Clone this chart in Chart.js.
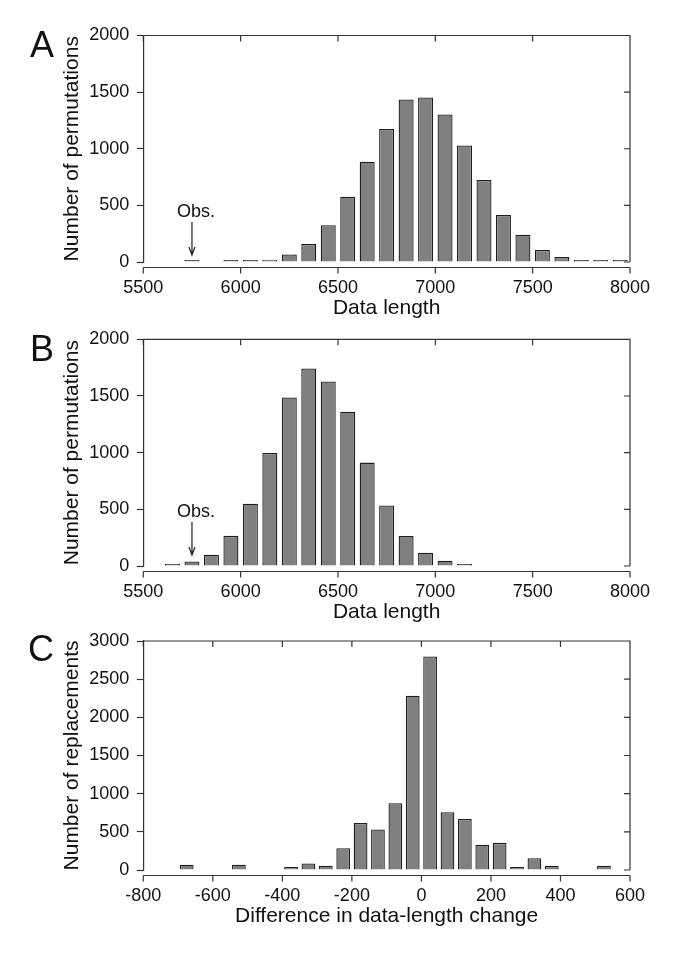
<!DOCTYPE html>
<html lang="en">
<head>
<meta charset="UTF-8">
<title>Permutation histograms</title>
<script src="https://cdn.jsdelivr.net/npm/chart.js"></script>
<style>
  body { margin: 0; background: #fff; font-family: "Liberation Sans", Arial, sans-serif; }
  #page { position: relative; width: 685px; height: 966px; overflow: hidden; }
  canvas { position: absolute; left: 0; }
  .letter { position: absolute; font-size: 36px; line-height: 36px; color: #111; }
</style>
</head>
<body>
<div id="page">
  <canvas id="chartA" width="685" height="330" style="top:0px"></canvas>
  <canvas id="chartB" width="685" height="330" style="top:304px"></canvas>
  <canvas id="chartC" width="685" height="330" style="top:608px"></canvas>
  <div class="letter" style="left:30px; top:27px">A</div>
  <div class="letter" style="left:30px; top:331px">B</div>
  <div class="letter" style="left:28px; top:631px">C</div>
</div>
<script>
// Panel A - bin centres and counts
const binsA = [5750, 5950, 6050, 6150, 6250, 6350, 6450, 6550, 6650, 6750, 6850,
               6950, 7050, 7150, 7250, 7350, 7450, 7550, 7650, 7750, 7850, 7950];
const countsA = [5, 5, 14, 20, 66, 160, 324, 577, 885, 1174, 1435,
                 1453, 1303, 1029, 724, 415, 241, 106, 44, 18, 9, 3];

// Panel B
const binsB = [5650, 5750, 5850, 5950, 6050, 6150, 6250, 6350, 6450, 6550, 6650,
               6750, 6850, 6950, 7050, 7150];
const countsB = [10, 40, 100, 266, 549, 997, 1487, 1742, 1628, 1361, 912,
                 534, 264, 117, 47, 12];

// Panel C
const binsC = [-675, -525, -375, -325, -275, -225, -175, -125, -75, -25,
               25, 75, 125, 175, 225, 275, 325, 375, 525];
const countsC = [70, 70, 40, 85, 55, 286, 616, 532, 875, 2283,
                 2798, 757, 669, 330, 356, 40, 154, 55, 55];

// axis ranges: [min, max, step]
const xRangeAB = [5500, 8000, 500];
const xRangeC = [-800, 600, 200];
const yRangeAB = [0, 2000, 500];
const yRangeC = [0, 3000, 500];

const ink = '#111';
const axisColor = '#333';
const tickFont = { family: 'Liberation Sans', size: 18 };
const titleFont = { family: 'Liberation Sans', size: 21 };

// box frame: top/right edges with inward ticks, bottom axis set a bit below zero
const framePlugin = {
  id: 'frame',
  afterDatasetsDraw(chart, args, opts) {
    const { ctx, chartArea: a } = chart;
    const x = chart.scales.x, y = chart.scales.y;
    ctx.save();
    ctx.strokeStyle = axisColor;
    ctx.lineWidth = 1.2;
    ctx.beginPath();
    ctx.moveTo(a.left, a.top);
    ctx.lineTo(a.right, a.top);
    ctx.lineTo(a.right, a.bottom);
    x.ticks.forEach(t => {
      const px = x.getPixelForValue(t.value);
      ctx.moveTo(px, a.top);
      ctx.lineTo(px, a.top + 6);
    });
    y.ticks.forEach(t => {
      const py = y.getPixelForValue(t.value);
      ctx.moveTo(a.right, py);
      ctx.lineTo(a.right - 6, py);
    });
    const base = a.bottom + 5.5;
    ctx.moveTo(a.left, base);
    ctx.lineTo(a.right, base);
    x.ticks.forEach(t => {
      const px = x.getPixelForValue(t.value);
      ctx.moveTo(px, base);
      ctx.lineTo(px, base + 6);
    });
    ctx.stroke();

    // "Obs." arrow
    if (opts.obs) {
      const px = x.getPixelForValue(opts.obs.x);
      const tip = y.getPixelForValue(opts.obs.y) - 6.5;
      const tail = tip - 33;
      ctx.strokeStyle = '#222';
      ctx.beginPath();
      ctx.moveTo(px, tail);
      ctx.lineTo(px, tip);
      ctx.moveTo(px - 3, tip - 8);
      ctx.lineTo(px, tip);
      ctx.lineTo(px + 3, tip - 8);
      ctx.stroke();
      ctx.fillStyle = ink;
      ctx.font = '18px "Liberation Sans"';
      ctx.textAlign = 'center';
      ctx.textBaseline = 'alphabetic';
      ctx.fillText('Obs.', px + 4, tail - 5);
    }
    ctx.restore();
  }
};

function makeChart(id, bins, counts, xr, yr, xTitle, yTitle, padTop, barPct, obs) {
  return new Chart(document.getElementById(id), {
    type: 'bar',
    data: {
      datasets: [{
        data: bins.map((b, i) => ({ x: b, y: counts[i] })),
        backgroundColor: '#808080',
        borderColor: '#1e1e1e',
        borderWidth: 1.3,
        minBarLength: 2,
        barPercentage: barPct,
        categoryPercentage: 1
      }]
    },
    options: {
      responsive: false,
      animation: false,
      events: [],
      layout: { padding: { top: padTop, right: 55, bottom: 0, left: 0 } },
      plugins: {
        legend: { display: false },
        tooltip: { enabled: false },
        frame: { obs: obs }
      },
      scales: {
        x: {
          type: 'linear',
          min: xr[0], max: xr[1],
          offset: false,
          grid: { display: false, drawTicks: false, offset: false },
          border: { display: false },
          ticks: { stepSize: xr[2], padding: 15.5, color: ink, font: tickFont,
                   maxRotation: 0, autoSkip: false, callback: v => String(v) },
          title: { display: true, text: xTitle, color: ink, font: titleFont,
                   padding: { top: 0, bottom: 9 } },
          afterFit: s => { s.height = 68; }
        },
        y: {
          min: yr[0], max: yr[1],
          grid: { display: true, drawOnChartArea: false, drawTicks: true, tickLength: 6.5,
                  color: axisColor, tickWidth: 1.2 },
          border: { display: true, color: axisColor, width: 1.2 },
          ticks: { stepSize: yr[2], padding: 7.5, color: ink, font: tickFont,
                   callback: v => String(v) },
          title: { display: true, text: yTitle, color: ink, font: titleFont,
                   padding: { top: 59.4, bottom: 0 } },
          afterFit: s => { s.width = 143.3; }
        }
      }
    },
    plugins: [framePlugin]
  });
}

makeChart('chartA', binsA, countsA, xRangeAB, yRangeAB, 'Data length',
          'Number of permutations', 35.5, 0.77, { x: binsA[0], y: countsA[0] });
makeChart('chartB', binsB, countsB, xRangeAB, yRangeAB, 'Data length',
          'Number of permutations', 35.3, 0.77, { x: binsB[1], y: countsB[1] });
makeChart('chartC', binsC, countsC, xRangeC, yRangeC, 'Difference in data-length change',
          'Number of replacements', 33, 0.79, null);
</script>
</body>
</html>
